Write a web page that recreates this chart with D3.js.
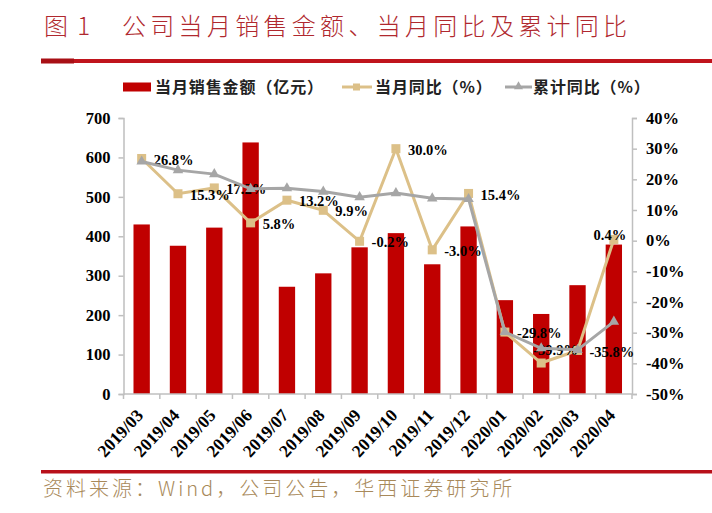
<!DOCTYPE html>
<html><head><meta charset="utf-8">
<script src="https://cdn.jsdelivr.net/npm/d3@7/dist/d3.min.js"></script>
<style>
html,body{margin:0;padding:0;background:#fff;}
svg{display:block;}
</style></head>
<body>
<svg id="chart" width="712" height="513"></svg>
<script>
const categories = ["2019/03","2019/04","2019/05","2019/06","2019/07","2019/08","2019/09","2019/10","2019/11","2019/12","2020/01","2020/02","2020/03","2020/04"];
const salesValues = [430, 376, 422, 638, 272, 306, 372, 408, 329, 425, 238, 203, 276, 379];
const monthlyYoY = [26.8, 15.3, 17.2, 5.8, 13.2, 9.9, -0.2, 30.0, -3.0, 15.4, -29.8, -39.9, -35.8, 0.4];
const cumulativeYoY = [25.8, 23.0, 21.7, 16.9, 17.1, 16.0, 14.2, 15.5, 13.8, 13.6, -29.8, -35.1, -35.6, -26.4];
const leftTicks = [0, 100, 200, 300, 400, 500, 600, 700];
const rightTicks = [-50, -40, -30, -20, -10, 0, 10, 20, 30, 40];
const seriesNames = ["当月销售金额（亿元）", "当月同比（%）", "累计同比（%）"];
const titleNum = "图 1";
const titleText = "公司当月销售金额、当月同比及累计同比";
const sourceText = "资料来源：Wind，公司公告，华西证券研究所";

const svg = d3.select("#chart");
const RED = "#c00000", GOLD = "#dcc088", GRAY = "#a6a6a6", AXIS = "#bfbfbf";
const serif = "'Liberation Serif','Times New Roman',serif";
const cjk = "'Noto Sans CJK SC','Noto Sans',sans-serif";

const plot = {left: 123.5, right: 632, top: 118, bottom: 394};

// Title
svg.append("text").attr("x", 44).attr("y", 35).attr("font-family", cjk).attr("font-size", 24)
  .attr("font-weight", 300).attr("fill", "#b0282e").attr("letter-spacing", "2px").text(titleNum);
svg.append("text").attr("x", 122).attr("y", 35).attr("font-family", cjk).attr("font-size", 24)
  .attr("font-weight", 300).attr("fill", "#b0282e").attr("letter-spacing", "4.3px").text(titleText);
// header rule
svg.append("rect").attr("x", 74).attr("y", 59).attr("width", 712 - 74).attr("height", 4).attr("fill", "#c0141c");
svg.append("rect").attr("x", 41).attr("y", 58.5).attr("width", 33).attr("height", 5).attr("fill", "#a80f15");
// footer rule
svg.append("rect").attr("x", 41).attr("y", 470).attr("width", 712 - 41).attr("height", 3.5).attr("fill", "#b8101a");
svg.append("text").attr("x", 43).attr("y", 496).attr("font-family", "'Noto Sans CJK SC','DejaVu Sans Mono',monospace")
  .attr("font-size", 20).attr("font-weight", 300).attr("fill", "#a8895a").attr("letter-spacing", "3px").text(sourceText);

// Scales
const x = d3.scaleBand().domain(categories).range([plot.left, plot.right]).paddingInner(0.55).paddingOuter(0.275);
const cx = d => x(d) + x.bandwidth() / 2;
const yL = d3.scaleLinear().domain([0, 700]).range([plot.bottom, plot.top]);
const yR = d3.scaleLinear().domain([-50, 40]).range([plot.bottom, plot.top]);

// Bars
svg.append("g").selectAll("rect").data(salesValues).join("rect")
  .attr("x", (d, i) => x(categories[i])).attr("width", x.bandwidth())
  .attr("y", d => yL(d)).attr("height", d => yL(0) - yL(d)).attr("fill", RED);

// Axes
const leftAxis = d3.axisLeft(yL).tickValues(leftTicks).tickSize(5).tickPadding(8).tickFormat(d3.format("d"));
const gL = svg.append("g").attr("transform", `translate(${plot.left},0)`).call(leftAxis);
const rightAxis = d3.axisRight(yR).tickValues(rightTicks).tickSize(5).tickPadding(9).tickFormat(d => d + "%");
const gR = svg.append("g").attr("transform", `translate(${plot.right},0)`).call(rightAxis);
[gL, gR].forEach(g => {
  g.select(".domain").attr("stroke", AXIS).attr("stroke-width", 1.5);
  g.selectAll(".tick line").attr("stroke", AXIS).attr("stroke-width", 1.5);
  g.selectAll(".tick text").attr("font-family", serif).attr("font-size", 16.5).attr("font-weight", "bold").attr("fill", "#000");
});
// x axis with boundary ticks
const gX = svg.append("g");
gX.append("line").attr("x1", plot.left).attr("x2", plot.right).attr("y1", plot.bottom).attr("y2", plot.bottom)
  .attr("stroke", AXIS).attr("stroke-width", 1.5);
const bounds = categories.map(c => x(c) - x.step() * x.paddingInner() / 2).concat([plot.right]);
gX.selectAll("line.tk").data(bounds).join("line").attr("class", "tk")
  .attr("x1", d => d).attr("x2", d => d).attr("y1", plot.bottom).attr("y2", plot.bottom + 5)
  .attr("stroke", AXIS).attr("stroke-width", 1.5);
gX.selectAll("text").data(categories).join("text")
  .attr("transform", d => `translate(${cx(d) - 2},${412}) rotate(-47)`)
  .attr("text-anchor", "end").attr("dy", "0.35em")
  .attr("font-family", serif).attr("font-size", 17.5).attr("font-weight", "bold").attr("fill", "#000")
  .text(d => d);

// Monthly YoY line
const line = d3.line().x((d, i) => cx(categories[i])).y(d => yR(d));
svg.append("path").datum(monthlyYoY).attr("d", line).attr("fill", "none").attr("stroke", GOLD).attr("stroke-width", 3);
svg.append("g").selectAll("rect").data(monthlyYoY).join("rect")
  .attr("x", (d, i) => cx(categories[i]) - 4.5).attr("y", d => yR(d) - 4.5)
  .attr("width", 9).attr("height", 9).attr("fill", GOLD);

// Monthly labels
svg.append("g").selectAll("text").data(monthlyYoY).join("text")
  .attr("x", (d, i) => {
    if (i === 11) return cx(categories[i]) - 8;
    if (i === 13) return cx(categories[i]) - 4;
    return cx(categories[i]) + 12;
  })
  .attr("y", (d, i) => {
    if (i === 11) return yR(d) - 13;
    if (i === 13) return yR(d) - 5;
    return yR(d) + 1;
  })
  .attr("text-anchor", (d, i) => i === 13 ? "middle" : "start")
  .attr("dy", "0.35em").attr("font-family", serif).attr("font-size", 14.5).attr("font-weight", "bold").attr("fill", "#000")
  .text(d => d.toFixed(1) + "%");

// Cumulative YoY line
svg.append("path").datum(cumulativeYoY).attr("d", line).attr("fill", "none").attr("stroke", GRAY).attr("stroke-width", 3);
const tri = d3.symbol().type(d3.symbolTriangle).size(48);
svg.append("g").selectAll("path").data(cumulativeYoY).join("path")
  .attr("transform", (d, i) => `translate(${cx(categories[i])},${yR(d)})`)
  .attr("d", tri).attr("fill", GRAY);

// Legend
const lg = svg.append("g").attr("font-family", cjk).attr("font-size", 16).attr("font-weight", 700).attr("fill", "#222");
lg.append("rect").attr("x", 123).attr("y", 82.5).attr("width", 28).attr("height", 9).attr("fill", RED);
lg.append("text").attr("x", 155).attr("y", 87).attr("dy", "0.35em").attr("letter-spacing", "0.9px").text(seriesNames[0]);
lg.append("line").attr("x1", 342).attr("x2", 372).attr("y1", 87).attr("y2", 87).attr("stroke", GOLD).attr("stroke-width", 3);
lg.append("rect").attr("x", 353).attr("y", 83.5).attr("width", 7).attr("height", 7).attr("fill", GOLD);
lg.append("text").attr("x", 375).attr("y", 87).attr("dy", "0.35em").attr("letter-spacing", "0.9px").text(seriesNames[1]);
lg.append("line").attr("x1", 505).attr("x2", 532).attr("y1", 87).attr("y2", 87).attr("stroke", GRAY).attr("stroke-width", 3);
lg.append("path").attr("transform", "translate(518.5,86.5)").attr("d", d3.symbol().type(d3.symbolTriangle).size(36)).attr("fill", GRAY);
lg.append("text").attr("x", 533).attr("y", 87).attr("dy", "0.35em").attr("letter-spacing", "0.9px").text(seriesNames[2]);
</script>
</body></html>
